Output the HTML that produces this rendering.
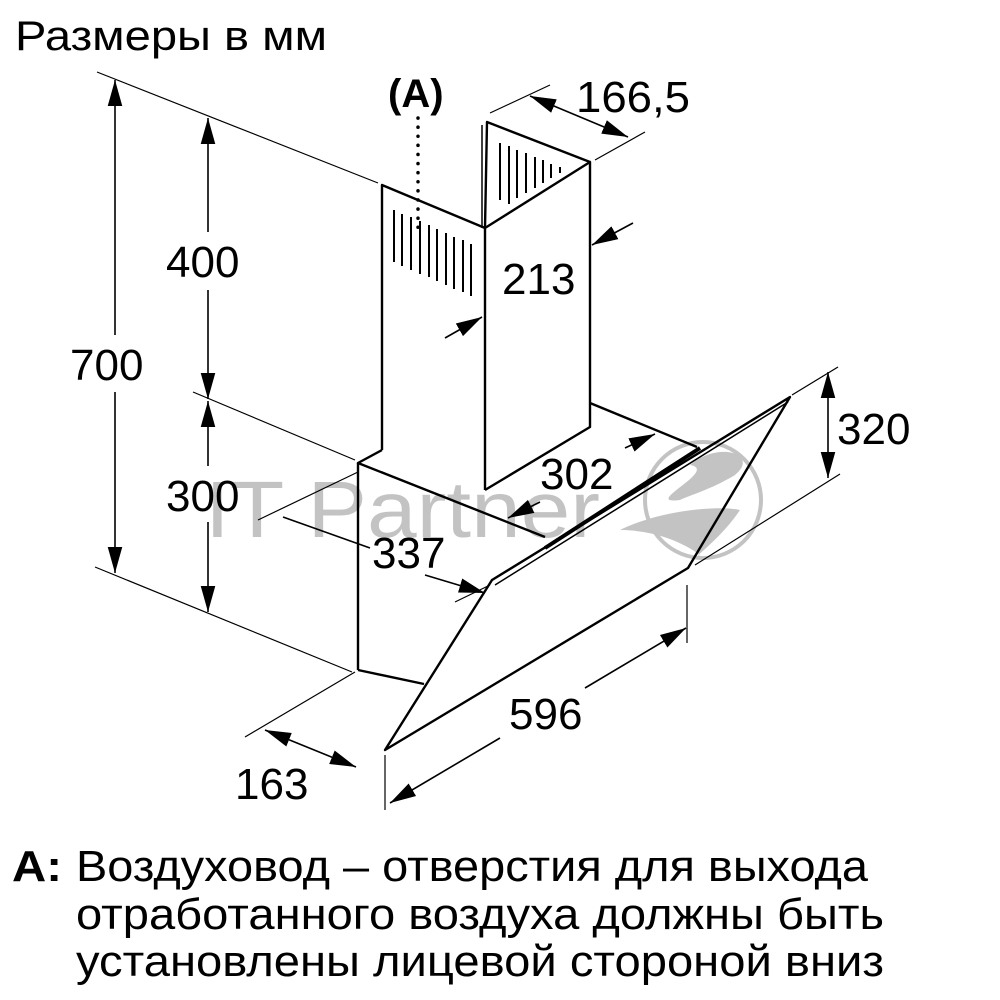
<!DOCTYPE html>
<html><head><meta charset="utf-8"><style>
html,body{margin:0;padding:0;background:#fff;}
svg{display:block;}
text{font-family:"Liberation Sans",sans-serif;fill:#000;}
</style></head><body>
<svg width="1000" height="1000" viewBox="0 0 1000 1000" xmlns="http://www.w3.org/2000/svg">
<defs>
<marker id="arL" viewBox="0 0 10 10" refX="10" refY="5" markerWidth="26" markerHeight="26" markerUnits="userSpaceOnUse" orient="auto-start-reverse"><path d="M0,2.2 L10,5 L0,7.8 z" fill="#000"/></marker>
</defs>

<!-- watermark -->
<g opacity="0.5">
<text x="205" y="537" font-size="80" style="fill:#888" textLength="395" lengthAdjust="spacingAndGlyphs">IT Partner</text>
<circle cx="703" cy="500" r="58" fill="none" stroke="#888" stroke-width="4"/>
<path d="M690,465 C720,440 760,455 735,475 C710,490 690,495 680,500 C640,505 720,470 690,465z" fill="#888"/>
<path d="M620,530 C660,510 720,505 740,510 C720,540 690,560 700,555 C680,540 650,530 620,530z" fill="#888"/>
</g>

<text x="15" y="50" font-size="42" textLength="312" lengthAdjust="spacingAndGlyphs">Размеры в мм</text>

<g stroke="#000" fill="none" stroke-width="1.2">
<line x1="97" y1="72" x2="378" y2="183"/>
<line x1="193" y1="392" x2="355" y2="460"/>
<line x1="95" y1="567" x2="352" y2="672"/>
<line x1="245" y1="737" x2="355" y2="672"/>
<line x1="385" y1="755" x2="385" y2="810"/>
<line x1="687" y1="585" x2="687" y2="643"/>
<line x1="490" y1="113" x2="550" y2="85"/>
<line x1="595" y1="160" x2="645" y2="132"/>
<line x1="792" y1="395" x2="838" y2="367"/>
<line x1="695" y1="565" x2="840" y2="474"/>
<line x1="258" y1="520" x2="358" y2="472"/>
<line x1="455" y1="602" x2="490" y2="585"/>
</g>
<g stroke="#000" fill="none" stroke-width="1.6">
<line x1="115" y1="80" x2="115" y2="335" marker-start="url(#arL)"/>
<line x1="115" y1="392" x2="115" y2="573" marker-end="url(#arL)"/>
<line x1="208" y1="118" x2="208" y2="232" marker-start="url(#arL)"/>
<line x1="208" y1="290" x2="208" y2="399" marker-end="url(#arL)"/>
<line x1="208" y1="401" x2="208" y2="466" marker-start="url(#arL)"/>
<line x1="208" y1="522" x2="208" y2="612" marker-end="url(#arL)"/>
<line x1="265" y1="730" x2="356" y2="767" marker-start="url(#arL)" marker-end="url(#arL)"/>
<line x1="390" y1="803" x2="500" y2="738" marker-start="url(#arL)"/>
<line x1="585" y1="688" x2="686" y2="628" marker-end="url(#arL)"/>
<line x1="283" y1="517" x2="370" y2="548"/>
<line x1="425" y1="575" x2="485" y2="593" marker-end="url(#arL)"/>
<line x1="625" y1="448" x2="655" y2="434" marker-end="url(#arL)"/>
<line x1="540" y1="502" x2="508" y2="518" marker-end="url(#arL)"/>
<line x1="828" y1="372" x2="828" y2="478" marker-start="url(#arL)" marker-end="url(#arL)"/>
<line x1="530" y1="96" x2="628" y2="137" marker-start="url(#arL)" marker-end="url(#arL)"/>
<line x1="633" y1="223" x2="592" y2="245" marker-end="url(#arL)"/>
<line x1="445" y1="338" x2="482" y2="317" marker-end="url(#arL)"/>
</g>

<g stroke="#000" fill="none" stroke-width="2.4" stroke-linejoin="round">
<polyline points="382,450 382,185 485,228 590,162 590,427 485,490"/>
<line x1="485" y1="228" x2="485" y2="490"/>
<polyline points="485,228 487,122 590,162"/>
<line x1="482" y1="125" x2="482" y2="228" stroke-width="1.5"/>
<line x1="590" y1="403" x2="697" y2="447"/>
<polyline points="382,450 358,463 545,537"/>
<line x1="358" y1="463" x2="358" y2="670"/>
<line x1="358" y1="670" x2="424" y2="684"/>
<polygon points="385,750 492,580 790,397 688,568"/>
<line x1="495" y1="585" x2="788" y2="402" stroke-width="1.5"/>
<line x1="545" y1="548" x2="700" y2="448" stroke-width="4"/>
</g>
<g stroke="#000" stroke-width="2">
<line x1="394" y1="210" x2="394" y2="262"/><line x1="402" y1="214" x2="402" y2="266"/>
<line x1="411" y1="217" x2="411" y2="270"/><line x1="420" y1="221" x2="420" y2="274"/>
<line x1="429" y1="225" x2="429" y2="277"/><line x1="437" y1="229" x2="437" y2="281"/>
<line x1="446" y1="233" x2="446" y2="285"/><line x1="454" y1="237" x2="454" y2="289"/>
<line x1="463" y1="240" x2="463" y2="292"/><line x1="471" y1="244" x2="471" y2="296"/>
<line x1="500" y1="143" x2="500" y2="200"/><line x1="509" y1="146" x2="509" y2="204"/>
<line x1="517" y1="150" x2="517" y2="198"/><line x1="526" y1="153" x2="526" y2="193"/>
<line x1="535" y1="157" x2="535" y2="188"/><line x1="543" y1="160" x2="543" y2="183"/>
<line x1="551" y1="164" x2="551" y2="178"/><line x1="560" y1="167" x2="560" y2="173"/>
</g>
<line x1="418" y1="118" x2="418" y2="228" stroke="#000" stroke-width="3.5" stroke-dasharray="0.1,9" stroke-linecap="round"/>

<g font-size="44">
<text x="388" y="107" font-weight="bold" font-size="40">(A)</text>
<text x="576" y="112" textLength="114" lengthAdjust="spacingAndGlyphs">166,5</text>
<text x="166" y="277">400</text>
<text x="70" y="380">700</text>
<text x="166" y="511">300</text>
<text x="502" y="294">213</text>
<text x="540" y="489">302</text>
<text x="372" y="568">337</text>
<text x="837" y="444">320</text>
<text x="509" y="729">596</text>
<text x="235" y="799">163</text>
</g>

<g font-size="44">
<text x="12" y="881" font-weight="bold" textLength="50" lengthAdjust="spacingAndGlyphs">A:</text>
<text x="76" y="881" textLength="792" lengthAdjust="spacingAndGlyphs">Воздуховод – отверстия для выхода</text>
<text x="76" y="929" textLength="808" lengthAdjust="spacingAndGlyphs">отработанного воздуха должны быть</text>
<text x="76" y="976" textLength="808" lengthAdjust="spacingAndGlyphs">установлены лицевой стороной вниз</text>
</g>
</svg>
</body></html>
